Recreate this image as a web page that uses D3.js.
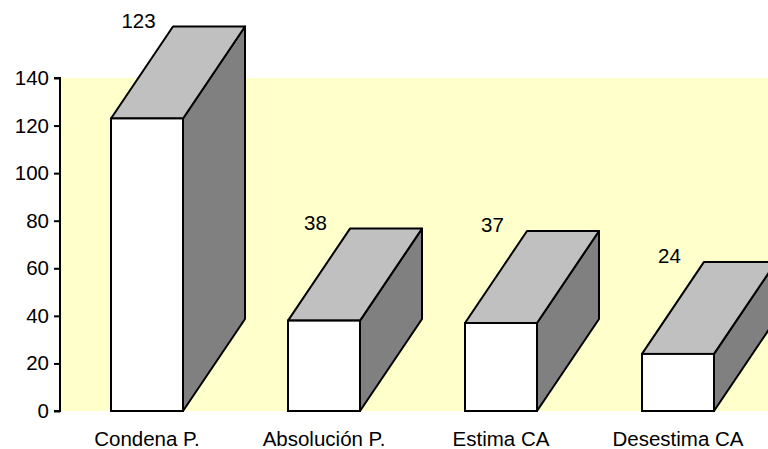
<!DOCTYPE html>
<html>
<head>
<meta charset="utf-8">
<script src="https://cdn.jsdelivr.net/npm/d3@7"></script>
<style>
  html, body { margin: 0; padding: 0; background: #ffffff; }
  svg { display: block; font-family: "Liberation Sans", Arial, sans-serif; }
</style>
</head>
<body>
<svg id="chart" width="768" height="449"></svg>
<script>
// Sentencias por tipo de resolución
const categories = ["Condena P.", "Absolución P.", "Estima CA", "Desestima CA"];
const values = [123, 38, 37, 24];
const yTicks = [0, 20, 40, 60, 80, 100, 120, 140];

const svg = d3.select("#chart");
const margin = { left: 60, right: 0, top: 78, bottom: 38 };
const W = 768, H = 449;
const depthX = 62, depthY = 92;   // oblique depth of each 3-D bar
const barW = 72;
const fontSize = 20.5;

const x = d3.scaleBand()
  .domain(categories)
  .range([margin.left, W - margin.right])
  .paddingInner(0).paddingOuter(0);

const y = d3.scaleLinear()
  .domain([0, 140])
  .range([H - margin.bottom, margin.top]);

// plot-area background
svg.append("rect")
  .attr("x", margin.left)
  .attr("y", y(140))
  .attr("width", W - margin.left)
  .attr("height", y(0) - y(140))
  .attr("fill", "#ffffcc");

// bars: front, side and top faces
const bars = svg.append("g").selectAll("g")
  .data(categories.map((c, i) => ({ c, v: values[i] })))
  .join("g");

const x0 = d => x(d.c) + x.bandwidth() / 2 - barW / 2 - 1.5;

bars.append("path")   // side
  .attr("d", d => {
    const l = x0(d) + barW, t = y(d.v), b = y(0);
    return `M${l},${b}L${l},${t}L${l + depthX},${t - depthY}L${l + depthX},${b - depthY}Z`;
  })
  .attr("fill", "#808080").attr("stroke", "#000").attr("stroke-width", 2)
  .attr("stroke-linejoin", "round");

bars.append("path")   // top
  .attr("d", d => {
    const l = x0(d), r = l + barW, t = y(d.v);
    return `M${l},${t}L${r},${t}L${r + depthX},${t - depthY}L${l + depthX},${t - depthY}Z`;
  })
  .attr("fill", "#c0c0c0").attr("stroke", "#000").attr("stroke-width", 2)
  .attr("stroke-linejoin", "round");

bars.append("rect")   // front
  .attr("x", d => x0(d))
  .attr("y", d => y(d.v))
  .attr("width", barW)
  .attr("height", d => y(0) - y(d.v))
  .attr("fill", "#ffffff").attr("stroke", "#000").attr("stroke-width", 2);

// value labels
bars.append("text")
  .attr("x", d => x(d.c) + x.bandwidth() / 2 - 10)
  .attr("y", d => y(d.v) - depthY - 4)
  .attr("text-anchor", "middle")
  .attr("dominant-baseline", "middle")
  .attr("font-size", fontSize)
  .attr("fill", "#000")
  .text(d => d.v);

// y axis
const yAxis = d3.axisLeft(y).tickValues(yTicks).tickSize(6).tickPadding(5);
const gy = svg.append("g")
  .attr("transform", `translate(${margin.left},0)`)
  .call(yAxis);
gy.select(".domain").attr("stroke", "#000").attr("stroke-width", 2)
  .attr("d", `M-6,${y(140)}H0V${y(0)}H-6`);
gy.selectAll(".tick line").attr("stroke", "#000").attr("stroke-width", 2);
gy.selectAll(".tick text").attr("font-size", fontSize).attr("fill", "#000")
  .attr("font-family", "'Liberation Sans', Arial, sans-serif");

// category labels
svg.append("g").selectAll("text")
  .data(categories)
  .join("text")
  .attr("x", d => x(d) + x.bandwidth() / 2 - 1.5)
  .attr("y", y(0) + 35)
  .attr("text-anchor", "middle")
  .attr("font-size", fontSize)
  .attr("fill", "#000")
  .text(d => d);
</script>
</body>
</html>
